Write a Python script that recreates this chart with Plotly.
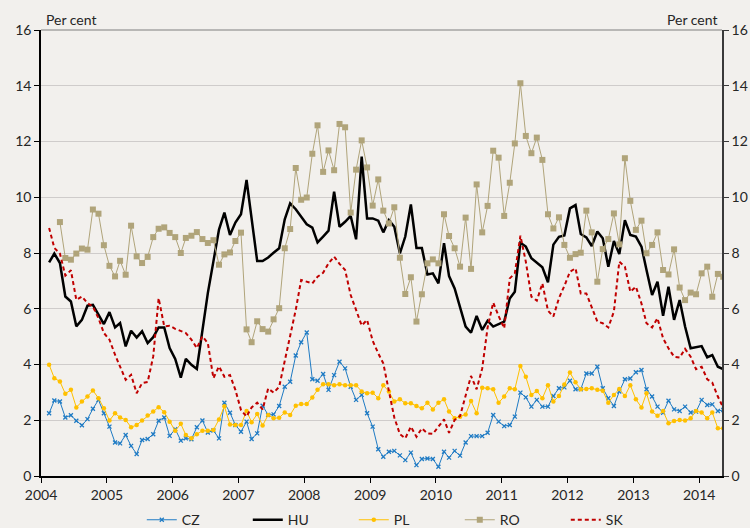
import plotly.graph_objects as go
import pandas as pd

start_month = "2004-01-15"
n_months = 124
dates = pd.date_range(start=start_month, periods=n_months, freq="MS") + pd.Timedelta(days=14)

CZ = [2.25, 2.71, 2.67, 2.10, 2.18, 1.98, 1.82, 2.04, 2.41, 2.73, 2.25, 1.77, 1.20, 1.17, 1.47, 1.08,
      0.79, 1.29, 1.33, 1.50, 1.98, 2.10, 1.44, 1.68, 1.27, 1.35, 1.32, 1.75, 1.99, 1.56, 1.63, 1.35,
      2.63, 2.27, 1.83, 1.59, 1.95, 1.33, 1.53, 2.52, 2.19, 2.21, 2.51, 3.20, 3.38, 4.32, 4.80, 5.15,
      3.47, 3.42, 3.66, 3.09, 3.62, 4.10, 3.86, 3.20, 2.73, 2.91, 2.25, 1.77, 0.96, 0.69, 0.87, 0.90,
      0.74, 0.57, 0.84, 0.39, 0.61, 0.63, 0.61, 0.33, 0.87, 0.66, 0.90, 0.73, 1.20, 1.43, 1.43, 1.43,
      1.55, 2.19, 1.95, 1.79, 1.83, 2.13, 2.99, 2.82, 2.49, 2.73, 2.49, 2.49, 2.87, 3.15, 3.18,
      3.42, 3.11, 3.11, 3.68, 3.68, 3.92, 3.15, 2.79, 2.51, 3.03, 3.47, 3.50, 3.72, 3.80, 3.11, 2.85,
      2.49, 2.27, 2.70, 2.39, 2.33, 2.49, 2.28, 2.31, 2.73, 2.55, 2.57, 2.33, 2.37]

HU = [7.66, 7.98, 7.64, 6.44, 6.26, 5.37, 5.60, 6.11, 6.14, 5.78, 5.45, 5.88, 5.33, 5.49, 4.65, 5.21,
      4.97, 5.19, 4.77, 4.98, 5.33, 5.33, 4.59, 4.20, 3.53, 4.20, 3.99, 3.84, 5.19, 6.56, 7.70, 8.84,
      9.45, 8.65, 9.09, 9.39, 10.62, 9.18, 7.71, 7.71, 7.84, 8.01, 8.17, 9.21, 9.78, 9.57, 9.30, 9.03,
      8.91, 8.38, 8.59, 8.80, 10.20, 8.94, 9.12, 9.33, 8.49, 11.46, 9.24, 9.24, 9.16, 8.74, 9.18, 8.94,
      7.99, 8.59, 9.74, 8.18, 8.18, 7.23, 7.27, 6.91, 8.35, 7.17, 6.73, 6.05, 5.36, 5.14, 5.74, 5.24,
      5.57, 5.36, 5.45, 5.54, 6.37, 6.61, 8.37, 8.23, 7.81, 7.65, 7.49, 6.95, 8.30, 8.58, 8.63,
      9.60, 9.72, 8.68, 8.56, 8.25, 8.77, 8.53, 7.51, 8.43, 7.96, 9.18, 8.65, 8.59, 8.23, 7.39, 6.49,
      6.97, 5.75, 6.79, 5.60, 6.31, 5.36, 4.58, 4.62, 4.66, 4.26, 4.34, 3.92, 3.83]

PL = [3.99, 3.51, 3.39, 2.95, 3.09, 2.46, 2.67, 2.85, 3.07, 2.79, 2.43, 1.99, 2.25, 2.10, 2.01, 1.75,
      1.83, 1.99, 2.17, 2.31, 2.47, 2.29, 1.95, 1.62, 1.87, 1.47, 1.35, 1.50, 1.62, 1.62, 1.65, 2.03,
      2.50, 1.85, 1.83, 1.83, 2.33, 1.93, 2.22, 1.81, 2.19, 2.07, 2.09, 2.28, 2.19, 2.52, 2.58, 2.58,
      2.82, 3.09, 3.29, 3.29, 3.26, 3.29, 3.26, 3.26, 3.26, 3.03, 2.97, 2.99, 2.79, 3.26, 3.03, 2.67,
      2.75, 2.61, 2.61, 2.51, 2.43, 2.63, 2.39, 2.63, 2.75, 2.31, 2.07, 2.13, 2.21, 2.69, 2.25, 3.17,
      3.15, 3.11, 2.63, 2.85, 3.15, 3.11, 3.95, 3.56, 2.91, 3.05, 2.79, 3.26, 2.67, 2.87, 3.28,
      3.71, 3.36, 3.11, 3.12, 3.15, 3.09, 3.06, 2.63, 2.91, 3.12, 2.87, 3.26, 2.75, 2.46, 2.97, 2.31,
      2.16, 2.33, 1.89, 1.97, 2.01, 1.99, 2.07, 2.33, 2.28, 2.07, 2.28, 1.71, 1.71]

RO = [None, None,
      9.11, 7.82, 7.76, 7.98, 8.16, 8.12, 9.56, 9.41, 8.28, 7.54, 7.16, 7.72, 7.22, 8.98,
      7.88, 7.64, 7.86, 8.57, 8.87, 8.92, 8.72, 8.57, 8.00, 8.54, 8.62, 8.75, 8.50, 8.36, 8.46, 7.58,
      7.95, 8.02, 8.43, 8.73, 5.26, 4.80, 5.55, 5.27, 5.18, 5.62, 6.02, 8.17, 8.86, 11.05, 9.91, 9.99,
      11.56, 12.58, 10.91, 11.68, 10.97, 12.63, 12.51, 9.45, 10.99, 12.04, 11.07, 9.70, 10.64, 9.52, 9.06, 9.64,
      7.83, 6.53, 7.13, 5.54, 6.52, 7.63, 7.77, 7.63, 9.39, 8.61, 8.17, 7.51, 9.27, 7.43, 10.46, 8.74,
      9.69, 11.67, 11.42, 9.33, 10.52, 11.93, 14.09, 12.20, 11.58, 12.14, 11.34, 9.39, 8.88, 9.28, 8.29,
      7.83, 7.96, 8.01, 9.52, 8.74, 6.97, 8.14, 8.50, 9.42, 8.31, 11.40, 9.87, 8.83, 9.16, 7.99, 8.29,
      8.74, 7.39, 7.23, 8.13, 6.76, 6.31, 6.58, 6.52, 7.27, 7.51, 6.43, 7.25, 7.15]

SK = [8.90, 8.18, 7.98, 7.19, 7.38, 6.32, 6.44, 6.20, 6.08, 5.66, 5.13, 4.89, 4.35, 3.93, 3.45, 3.63,
      2.97, 3.33, 3.37, 4.29, 6.38, 5.37, 5.39, 5.28, 5.21, 5.13, 4.89, 4.59, 5.01, 4.77, 3.51, 3.93,
      3.56, 3.62, 3.09, 2.37, 2.13, 2.46, 2.63, 2.39, 3.14, 2.99, 3.20, 4.16, 5.00, 5.96, 7.03, 6.97,
      6.91, 7.15, 7.29, 7.63, 7.87, 7.61, 7.39, 6.49, 5.96, 5.40, 5.60, 4.85, 4.40, 4.04, 3.05, 2.10,
      1.50, 1.35, 1.77, 1.41, 1.71, 1.53, 1.51, 1.75, 2.03, 1.55, 2.01, 2.15, 2.85, 3.59, 3.11, 3.86,
      5.33, 6.22, 5.74, 5.30, 7.09, 7.27, 8.62, 7.69, 6.43, 6.29, 6.91, 5.93, 5.72, 6.38, 6.82,
      7.33, 7.45, 6.55, 6.55, 6.07, 5.54, 5.48, 5.33, 5.90, 7.69, 7.51, 6.61, 6.79, 6.19, 5.48, 5.33,
      5.66, 4.94, 4.58, 4.28, 4.25, 4.56, 4.28, 3.83, 3.92, 3.47, 3.35, 2.85, 2.45]

y_ticks = [0, 2, 4, 6, 8, 10, 12, 14, 16]
unit_label = "Per cent"

FONT = "Lato, 'Noto Sans', sans-serif"
TEXT = "#262626"
BG = "#f2f0ed"
FS = 14

fig = go.Figure()
fig.add_trace(go.Scatter(x=dates, y=CZ, name="CZ", mode="lines+markers",
                         line=dict(color="#1f7bc4", width=1),
                         marker=dict(symbol="x-thin", size=4, line=dict(color="#1f7bc4", width=1.3))))
fig.add_trace(go.Scatter(x=dates, y=HU, name="HU", mode="lines",
                         line=dict(color="#000000", width=2.5)))
fig.add_trace(go.Scatter(x=dates, y=PL, name="PL", mode="lines+markers",
                         line=dict(color="#ffc000", width=1),
                         marker=dict(symbol="circle", size=4.5, color="#ffc000")))
fig.add_trace(go.Scatter(x=dates, y=RO, name="RO", mode="lines+markers",
                         line=dict(color="#b0a47a", width=1),
                         marker=dict(symbol="square", size=6, color="#b0a47a")))
fig.add_trace(go.Scatter(x=dates, y=SK, name="SK", mode="lines",
                         line=dict(color="#c00000", width=2, dash="4px,3px")))
# invisible trace to carry the right-hand axis
fig.add_trace(go.Scatter(x=dates, y=CZ, yaxis="y2", mode="lines", line=dict(width=0),
                         opacity=0, showlegend=False, hoverinfo="skip"))

fig.update_layout(
    width=750, height=528,
    margin=dict(l=41, r=28, t=30, b=52, autoexpand=False),
    paper_bgcolor=BG, plot_bgcolor=BG,
    font=dict(family=FONT, size=FS, color=TEXT),
    showlegend=True,
    legend=dict(orientation="h", x=0.148, xanchor="left", y=-0.099, yanchor="middle",
                entrywidth=61, entrywidthmode="pixels", font=dict(size=FS, color=TEXT),
                bgcolor="rgba(0,0,0,0)", itemwidth=30),
    xaxis=dict(type="date", range=["2004-01-01", "2014-05-08"], tick0="2004-01-01", dtick="M12",
               tickformat="%Y", showgrid=False, showline=True, linecolor="#000000", linewidth=1.5,
               ticks="outside", ticklen=5, tickcolor="#000000", zeroline=False, automargin=False,
               tickfont=dict(size=FS, color=TEXT)),
    yaxis=dict(range=[0, 16], tickvals=y_ticks, showgrid=True, gridcolor="#cfcccb", gridwidth=1,
               showline=True, linecolor="#000000", linewidth=1.5, ticks="outside", ticklen=5,
               tickcolor="#000000", zeroline=False, automargin=False, tickfont=dict(size=FS, color=TEXT)),
    yaxis2=dict(range=[0, 16], tickvals=y_ticks, overlaying="y", side="right", showgrid=False,
                showline=True, linecolor="#3a3a3a", linewidth=1.5, ticks="outside", ticklen=5,
                tickcolor="#3a3a3a", zeroline=False, automargin=False, tickfont=dict(size=FS, color=TEXT)),
)

fig.add_shape(type="line", xref="paper", yref="paper", x0=0, x1=1, y0=1, y1=1,
              line=dict(color="#7f7f7f", width=1))

fig.add_annotation(text=unit_label, xref="paper", yref="paper", x=0.004, y=1.0, xanchor="left",
                   yanchor="bottom", showarrow=False, font=dict(size=FS, color=TEXT), yshift=0)
fig.add_annotation(text=unit_label, xref="paper", yref="paper", x=0.997, y=1.0, xanchor="right",
                   yanchor="bottom", showarrow=False, font=dict(size=FS, color=TEXT), yshift=0)

fig.write_html("out.html", config={"displayModeBar": False},
               post_script="document.body.style.margin='0';document.body.style.background='%s';" % BG)
